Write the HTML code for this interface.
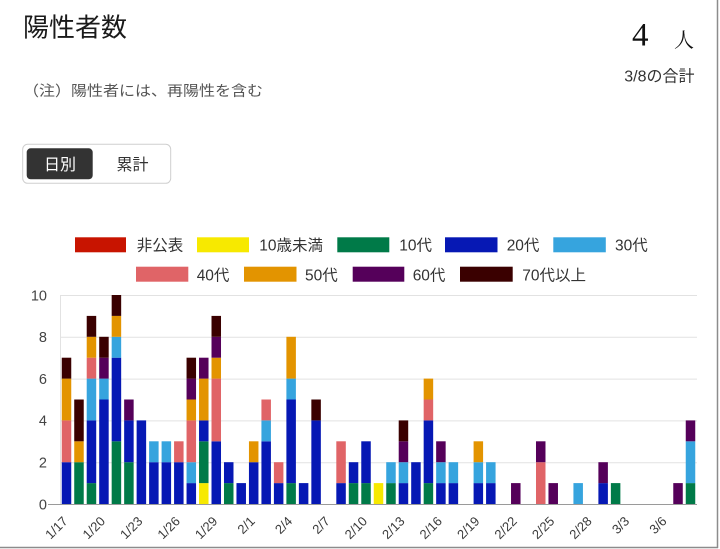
<!DOCTYPE html>
<html>
<head>
<meta charset="utf-8">
<style>
  html,body{margin:0;padding:0;background:#fff;}
  body{width:720px;height:549px;overflow:hidden;}
  svg{display:block;}
  .jp{font-family:"Liberation Sans","Noto Sans CJK JP",sans-serif;}
  .r{fill:#c81400}.y{fill:#f7e900}.g{fill:#007a48}.b{fill:#0618b4}.l{fill:#36a4de}
  .p{fill:#e06467}.o{fill:#e39400}.u{fill:#55005a}.d{fill:#3a0000}
</style>
</head>
<body>
<svg width="720" height="549" viewBox="0 0 720 549" xmlns="http://www.w3.org/2000/svg">
  <rect x="0" y="0" width="720" height="549" fill="#fff"/>
  <!-- card edges -->
  <line x1="717.5" y1="0" x2="717.5" y2="548" stroke="#8c8c8c" stroke-width="1.5"/>
  <line x1="0" y1="547.5" x2="718" y2="547.5" stroke="#8c8c8c" stroke-width="1.5"/>

  <!-- header -->
  <text class="jp" x="23" y="36.5" font-size="26" fill="#1a1a1a">陽性者数</text>
  <text class="jp" x="23" y="96" font-size="14.5" fill="#555" textLength="240" lengthAdjust="spacingAndGlyphs">（注）陽性者には、再陽性を含む</text>
  <text x="632" y="45.5" font-size="33" fill="#111" font-family="'Liberation Serif','Noto Serif CJK JP',serif">4</text>
  <text x="694" y="47" font-size="20" fill="#111" text-anchor="end" font-family="'Liberation Serif','Noto Serif CJK JP',serif">人</text>
  <text class="jp" x="694.5" y="81.5" font-size="16" fill="#333" text-anchor="end">3/8の合計</text>

  <!-- toggle -->
  <rect x="22.7" y="144.3" width="148" height="39" rx="5" fill="#fff" stroke="#cfcfcf" stroke-width="1"/>
  <rect x="26.7" y="148.3" width="66" height="31" rx="4" fill="#333"/>
  <text class="jp" x="60" y="170" font-size="16" fill="#fff" text-anchor="middle">日別</text>
  <text class="jp" x="132.5" y="170" font-size="16" fill="#333" text-anchor="middle">累計</text>

  <!-- legend -->
  <g class="jp" font-size="15.5" fill="#333">
    <rect class="r" x="75" y="237.3" width="51" height="15"/><text x="136.7" y="250.6">非公表</text>
    <rect class="y" x="197" y="237.3" width="52" height="15"/><text x="259.3" y="250.6">10歳未満</text>
    <rect class="g" x="337.3" y="237.3" width="52" height="15"/><text x="399.3" y="250.6">10代</text>
    <rect class="b" x="445" y="237.3" width="52.5" height="15"/><text x="506.7" y="250.6">20代</text>
    <rect class="l" x="553.3" y="237.3" width="52.5" height="15"/><text x="615" y="250.6">30代</text>
    <rect class="p" x="136" y="266.7" width="52.3" height="15"/><text x="196.7" y="280.4">40代</text>
    <rect class="o" x="244" y="266.7" width="52.5" height="15"/><text x="305" y="280.4">50代</text>
    <rect class="u" x="352.7" y="266.7" width="51.6" height="15"/><text x="412.7" y="280.4">60代</text>
    <rect class="d" x="460" y="266.7" width="52.7" height="15"/><text x="522.3" y="280.4">70代以上</text>
  </g>

  <!-- grid -->
  <g stroke="#e2e2e2" stroke-width="1">
    <line x1="60" y1="295.5" x2="697" y2="295.5"/>
    <line x1="60" y1="337.3" x2="697" y2="337.3"/>
    <line x1="60" y1="379.1" x2="697" y2="379.1"/>
    <line x1="60" y1="420.9" x2="697" y2="420.9"/>
    <line x1="60" y1="462.7" x2="697" y2="462.7"/>
    <line x1="60.5" y1="295" x2="60.5" y2="504"/>
  </g>
  <g font-family="'Liberation Sans',sans-serif" font-size="14.5" fill="#444" text-anchor="end">
    <text x="47" y="300.3">10</text>
    <text x="47" y="342.1">8</text>
    <text x="47" y="383.9">6</text>
    <text x="47" y="425.7">4</text>
    <text x="47" y="467.5">2</text>
    <text x="47" y="509.3">0</text>
  </g>

  <!-- bars -->
  <g transform="translate(0,504) scale(1,-20.9)">
    <rect class="b" x="61.75" y="0" width="9.5" height="2"/><rect class="p" x="61.75" y="2" width="9.5" height="2"/><rect class="o" x="61.75" y="4" width="9.5" height="2"/><rect class="d" x="61.75" y="6" width="9.5" height="1"/>
    <rect class="g" x="74.23" y="0" width="9.5" height="2"/><rect class="o" x="74.23" y="2" width="9.5" height="1"/><rect class="d" x="74.23" y="3" width="9.5" height="2"/>
    <rect class="g" x="86.71" y="0" width="9.5" height="1"/><rect class="b" x="86.71" y="1" width="9.5" height="3"/><rect class="l" x="86.71" y="4" width="9.5" height="2"/><rect class="p" x="86.71" y="6" width="9.5" height="1"/><rect class="o" x="86.71" y="7" width="9.5" height="1"/><rect class="d" x="86.71" y="8" width="9.5" height="1"/>
    <rect class="b" x="99.19" y="0" width="9.5" height="5"/><rect class="l" x="99.19" y="5" width="9.5" height="1"/><rect class="u" x="99.19" y="6" width="9.5" height="1"/><rect class="d" x="99.19" y="7" width="9.5" height="1"/>
    <rect class="g" x="111.67" y="0" width="9.5" height="3"/><rect class="b" x="111.67" y="3" width="9.5" height="4"/><rect class="l" x="111.67" y="7" width="9.5" height="1"/><rect class="o" x="111.67" y="8" width="9.5" height="1"/><rect class="d" x="111.67" y="9" width="9.5" height="1"/>
    <rect class="g" x="124.15" y="0" width="9.5" height="2"/><rect class="b" x="124.15" y="2" width="9.5" height="2"/><rect class="u" x="124.15" y="4" width="9.5" height="1"/>
    <rect class="b" x="136.63" y="0" width="9.5" height="4"/>
    <rect class="b" x="149.11" y="0" width="9.5" height="2"/><rect class="l" x="149.11" y="2" width="9.5" height="1"/>
    <rect class="b" x="161.59" y="0" width="9.5" height="2"/><rect class="l" x="161.59" y="2" width="9.5" height="1"/>
    <rect class="b" x="174.07" y="0" width="9.5" height="2"/><rect class="p" x="174.07" y="2" width="9.5" height="1"/>
    <rect class="b" x="186.55" y="0" width="9.5" height="1"/><rect class="l" x="186.55" y="1" width="9.5" height="1"/><rect class="p" x="186.55" y="2" width="9.5" height="2"/><rect class="o" x="186.55" y="4" width="9.5" height="1"/><rect class="u" x="186.55" y="5" width="9.5" height="1"/><rect class="d" x="186.55" y="6" width="9.5" height="1"/>
    <rect class="y" x="199.03" y="0" width="9.5" height="1"/><rect class="g" x="199.03" y="1" width="9.5" height="2"/><rect class="b" x="199.03" y="3" width="9.5" height="1"/><rect class="o" x="199.03" y="4" width="9.5" height="2"/><rect class="u" x="199.03" y="6" width="9.5" height="1"/>
    <rect class="b" x="211.51" y="0" width="9.5" height="3"/><rect class="p" x="211.51" y="3" width="9.5" height="3"/><rect class="o" x="211.51" y="6" width="9.5" height="1"/><rect class="u" x="211.51" y="7" width="9.5" height="1"/><rect class="d" x="211.51" y="8" width="9.5" height="1"/>
    <rect class="g" x="223.99" y="0" width="9.5" height="1"/><rect class="b" x="223.99" y="1" width="9.5" height="1"/>
    <rect class="b" x="236.47" y="0" width="9.5" height="1"/>
    <rect class="b" x="248.95" y="0" width="9.5" height="2"/><rect class="o" x="248.95" y="2" width="9.5" height="1"/>
    <rect class="b" x="261.43" y="0" width="9.5" height="3"/><rect class="l" x="261.43" y="3" width="9.5" height="1"/><rect class="p" x="261.43" y="4" width="9.5" height="1"/>
    <rect class="b" x="273.91" y="0" width="9.5" height="1"/><rect class="p" x="273.91" y="1" width="9.5" height="1"/>
    <rect class="g" x="286.39" y="0" width="9.5" height="1"/><rect class="b" x="286.39" y="1" width="9.5" height="4"/><rect class="l" x="286.39" y="5" width="9.5" height="1"/><rect class="o" x="286.39" y="6" width="9.5" height="2"/>
    <rect class="b" x="298.87" y="0" width="9.5" height="1"/>
    <rect class="b" x="311.35" y="0" width="9.5" height="4"/><rect class="d" x="311.35" y="4" width="9.5" height="1"/>
    <rect class="b" x="336.31" y="0" width="9.5" height="1"/><rect class="p" x="336.31" y="1" width="9.5" height="2"/>
    <rect class="g" x="348.79" y="0" width="9.5" height="1"/><rect class="b" x="348.79" y="1" width="9.5" height="1"/>
    <rect class="g" x="361.27" y="0" width="9.5" height="1"/><rect class="b" x="361.27" y="1" width="9.5" height="2"/>
    <rect class="y" x="373.75" y="0" width="9.5" height="1"/>
    <rect class="g" x="386.23" y="0" width="9.5" height="1"/><rect class="l" x="386.23" y="1" width="9.5" height="1"/>
    <rect class="b" x="398.71" y="0" width="9.5" height="1"/><rect class="l" x="398.71" y="1" width="9.5" height="1"/><rect class="u" x="398.71" y="2" width="9.5" height="1"/><rect class="d" x="398.71" y="3" width="9.5" height="1"/>
    <rect class="b" x="411.19" y="0" width="9.5" height="2"/>
    <rect class="g" x="423.67" y="0" width="9.5" height="1"/><rect class="b" x="423.67" y="1" width="9.5" height="3"/><rect class="p" x="423.67" y="4" width="9.5" height="1"/><rect class="o" x="423.67" y="5" width="9.5" height="1"/>
    <rect class="b" x="436.15" y="0" width="9.5" height="1"/><rect class="l" x="436.15" y="1" width="9.5" height="1"/><rect class="u" x="436.15" y="2" width="9.5" height="1"/>
    <rect class="b" x="448.63" y="0" width="9.5" height="1"/><rect class="l" x="448.63" y="1" width="9.5" height="1"/>
    <rect class="b" x="473.59" y="0" width="9.5" height="1"/><rect class="l" x="473.59" y="1" width="9.5" height="1"/><rect class="o" x="473.59" y="2" width="9.5" height="1"/>
    <rect class="b" x="486.07" y="0" width="9.5" height="1"/><rect class="l" x="486.07" y="1" width="9.5" height="1"/>
    <rect class="u" x="511.03" y="0" width="9.5" height="1"/>
    <rect class="p" x="535.99" y="0" width="9.5" height="2"/><rect class="u" x="535.99" y="2" width="9.5" height="1"/>
    <rect class="u" x="548.47" y="0" width="9.5" height="1"/>
    <rect class="l" x="573.43" y="0" width="9.5" height="1"/>
    <rect class="b" x="598.39" y="0" width="9.5" height="1"/><rect class="u" x="598.39" y="1" width="9.5" height="1"/>
    <rect class="g" x="610.87" y="0" width="9.5" height="1"/>
    <rect class="u" x="673.27" y="0" width="9.5" height="1"/>
    <rect class="g" x="685.75" y="0" width="9.5" height="1"/><rect class="l" x="685.75" y="1" width="9.5" height="2"/><rect class="u" x="685.75" y="3" width="9.5" height="1"/>
  </g>

  <!-- baseline -->
  <line x1="48" y1="504.5" x2="697" y2="504.5" stroke="#9a9a9a" stroke-width="1"/>

  <!-- x tick labels -->
  <g font-family="'Liberation Sans',sans-serif" font-size="13" fill="#3a3a3a" text-anchor="end">
    <text transform="translate(68.5,522) rotate(-45)">1/17</text>
    <text transform="translate(105.94,522) rotate(-45)">1/20</text>
    <text transform="translate(143.38,522) rotate(-45)">1/23</text>
    <text transform="translate(180.82,522) rotate(-45)">1/26</text>
    <text transform="translate(218.26,522) rotate(-45)">1/29</text>
    <text transform="translate(255.7,522) rotate(-45)">2/1</text>
    <text transform="translate(293.14,522) rotate(-45)">2/4</text>
    <text transform="translate(330.58,522) rotate(-45)">2/7</text>
    <text transform="translate(368.02,522) rotate(-45)">2/10</text>
    <text transform="translate(405.46,522) rotate(-45)">2/13</text>
    <text transform="translate(442.9,522) rotate(-45)">2/16</text>
    <text transform="translate(480.34,522) rotate(-45)">2/19</text>
    <text transform="translate(517.78,522) rotate(-45)">2/22</text>
    <text transform="translate(555.22,522) rotate(-45)">2/25</text>
    <text transform="translate(592.66,522) rotate(-45)">2/28</text>
    <text transform="translate(630.1,522) rotate(-45)">3/3</text>
    <text transform="translate(667.54,522) rotate(-45)">3/6</text>
  </g>
</svg>
</body>
</html>
